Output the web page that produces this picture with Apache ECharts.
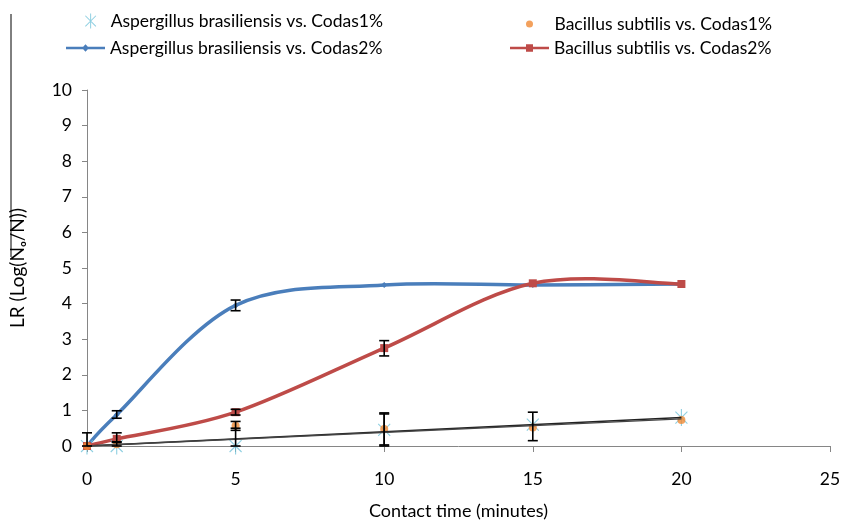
<!DOCTYPE html>
<html>

<head>
    <meta charset="utf-8" />
    <script src="https://cdn.jsdelivr.net/npm/echarts@6/dist/echarts.min.js"></script>
</head>

<body style="margin:0">
    <div id="main" style="width: 843px; height:520px;"></div>
    <script type="text/javascript">
        var myChart = echarts.init(document.getElementById('main'));

        // contact time (minutes)
        var xVals = [0, 1, 5, 10, 15, 20];
        // LR values
        var aspCodas1 = [0, 0, 0, 0.45, 0.6, 0.8];
        var bacCodas1 = [0, 0.05, 0.57, 0.48, 0.52, 0.73];
        var aspCodas2 = [0, 0.88, 3.95, 4.52, 4.52, 4.55];
        var bacCodas2 = [0, 0.2, 0.95, 2.75, 4.57, 4.55];
        // linear trend lines of the 1% series
        var trendX = [0, 20];
        var trendAsp = [0, 0.8];
        var trendBac = [0, 0.76];
        // error bars: x, low, high
        var errX = [0, 1, 1, 1, 5, 5, 5, 5, 10, 10, 10, 15];
        var errLow = [0, 0.78, 0.12, 0, 3.8, 0.87, 0.44, 0, 2.53, 0, 0.03, 0.15];
        var errHigh = [0.37, 0.99, 0.37, 0.1, 4.1, 1.03, 0.69, 0.5, 2.96, 0.9, 0.93, 0.95];

        var names = [
            'Aspergillus brasiliensis vs. Codas1%',
            'Bacillus subtilis vs. Codas1%',
            'Aspergillus brasiliensis vs. Codas2%',
            'Bacillus subtilis vs. Codas2%'
        ];

        function pairs(xs, ys) {
            return xs.map(function (x, i) { return [x, ys[i]]; });
        }

        var starPath = 'path://M6.6,7.5 L7.5,6.6 L-6.6,-7.5 L-7.5,-6.6 Z ' +
            'M7.5,-6.6 L6.6,-7.5 L-7.5,6.6 L-6.6,7.5 Z ' +
            'M-0.65,-10 L-0.65,10 L0.65,10 L0.65,-10 Z';
        // legend icons: line with a marker in the middle
        var lineDiamondIcon = 'path://M0,4 L39,4 L39,6.4 L0,6.4 Z M19.5,1.5 L23,5.2 L19.5,8.9 L16,5.2 Z';
        var lineRectIcon = 'path://M0,4 L39,4 L39,6.4 L0,6.4 Z M16,1.5 L23,1.5 L23,8.9 L16,8.9 Z';

        var font = 'Lato';
        var legendText = { fontFamily: font, fontSize: 17.5, color: '#000' };

        function legendAt(name, icon, left, top, w, h) {
            return {
                data: [{ name: name, icon: icon }], left: left, top: top, itemWidth: w, itemHeight: h,
                padding: 0, itemGap: 4, textStyle: legendText, selectedMode: false
            };
        }

        // smoothed curve (Catmull-Rom style Bezier segments) through the points of one series
        function curveSeries(ys, color) {
            return {
                type: 'custom', z: 2, silent: true,
                data: pairs(xVals, ys),
                renderItem: function (params, api) {
                    var i = params.dataIndex;
                    var n = xVals.length;
                    if (i >= n - 1) return;
                    function pt(k) {
                        k = Math.max(0, Math.min(n - 1, k));
                        return api.coord([xVals[k], ys[k]]);
                    }
                    var p0 = pt(i - 1), p1 = pt(i), p2 = pt(i + 1), p3 = pt(i + 2);
                    return {
                        type: 'bezierCurve',
                        shape: {
                            x1: p1[0], y1: p1[1], x2: p2[0], y2: p2[1],
                            cpx1: p1[0] + (p2[0] - p0[0]) / 6, cpy1: p1[1] + (p2[1] - p0[1]) / 6,
                            cpx2: p2[0] - (p3[0] - p1[0]) / 6, cpy2: p2[1] - (p3[1] - p1[1]) / 6
                        },
                        style: { stroke: color, lineWidth: 3.5, fill: null, lineCap: 'round' }
                    };
                }
            };
        }

        var option = {
            animation: false,
            legend: [
                legendAt(names[0], starPath, 85, 12, 30, 15),
                legendAt(names[1], 'circle', 526, 15, 40, 7),
                legendAt(names[2], lineDiamondIcon, 66, 39, 39, 10),
                legendAt(names[3], lineRectIcon, 510, 39, 39, 10)
            ],
            graphic: [{
                type: 'line', shape: { x1: 11, y1: 14, x2: 11, y2: 257 },
                style: { stroke: '#000', lineWidth: 1 }
            }],
            grid: { left: 87, right: 13, top: 90, bottom: 74, outerBoundsMode: 'none' },
            xAxis: {
                type: 'value', min: 0, max: 25, interval: 5,
                name: 'Contact time (minutes)', nameLocation: 'middle', nameGap: 56,
                nameTextStyle: { fontFamily: font, fontSize: 18, color: '#000' },
                axisLine: { lineStyle: { color: '#868686' } },
                axisTick: { length: 6, lineStyle: { color: '#868686' } },
                axisLabel: { fontFamily: font, fontSize: 17.5, color: '#000', margin: 24 },
                splitLine: { show: false }
            },
            yAxis: {
                type: 'value', min: 0, max: 10, interval: 1,
                name: 'LR (Log(N\u2092/N))', nameLocation: 'middle', nameGap: 60,
                nameTextStyle: { fontFamily: font, fontSize: 19, color: '#000' },
                axisLine: { show: true, lineStyle: { color: '#868686' } },
                axisTick: { show: true, length: 5, lineStyle: { color: '#868686' } },
                axisLabel: { fontFamily: font, fontSize: 17.5, color: '#000', margin: 15 },
                splitLine: { show: false }
            },
            series: [
                {
                    name: names[0], type: 'scatter', data: pairs(xVals, aspCodas1),
                    symbol: starPath, symbolSize: 17, symbolKeepAspect: true,
                    itemStyle: { color: '#72C3D9' }, z: 3
                },
                {
                    name: names[1], type: 'scatter', data: pairs(xVals, bacCodas1),
                    symbol: 'circle', symbolSize: 8,
                    itemStyle: { color: '#F08A35' }, z: 4
                },
                curveSeries(aspCodas2, '#4A7EBB'),
                curveSeries(bacCodas2, '#BE4B48'),
                {
                    name: names[2], type: 'line', data: pairs(xVals, aspCodas2),
                    symbol: 'diamond', symbolSize: 6, showSymbol: true,
                    lineStyle: { width: 0, opacity: 0 }, itemStyle: { color: '#4A7EBB' }, z: 3
                },
                {
                    name: names[3], type: 'line', data: pairs(xVals, bacCodas2),
                    symbol: 'rect', symbolSize: 8, showSymbol: true,
                    lineStyle: { width: 0, opacity: 0 }, itemStyle: { color: '#BE4B48' }, z: 3
                },
                {
                    type: 'line', data: pairs(trendX, trendAsp), showSymbol: false,
                    lineStyle: { color: '#222', width: 1.3 }, z: 5, silent: true
                },
                {
                    type: 'line', data: pairs(trendX, trendBac), showSymbol: false,
                    lineStyle: { color: '#444', width: 1.3 }, z: 5, silent: true
                },
                {
                    type: 'custom', z: 6, silent: true,
                    data: errX.map(function (x, i) { return [x, errLow[i], errHigh[i]]; }),
                    renderItem: function (params, api) {
                        var lo = api.coord([api.value(0), api.value(1)]);
                        var hi = api.coord([api.value(0), api.value(2)]);
                        var hw = 5;
                        var st = { stroke: '#000', lineWidth: 1.6 };
                        return {
                            type: 'group',
                            children: [
                                { type: 'line', shape: { x1: lo[0], y1: lo[1], x2: hi[0], y2: hi[1] }, style: st },
                                { type: 'line', shape: { x1: lo[0] - hw, y1: lo[1], x2: lo[0] + hw, y2: lo[1] }, style: st },
                                { type: 'line', shape: { x1: hi[0] - hw, y1: hi[1], x2: hi[0] + hw, y2: hi[1] }, style: st }
                            ]
                        };
                    }
                }
            ]
        };

        myChart.setOption(option);
    </script>
</body>

</html>
